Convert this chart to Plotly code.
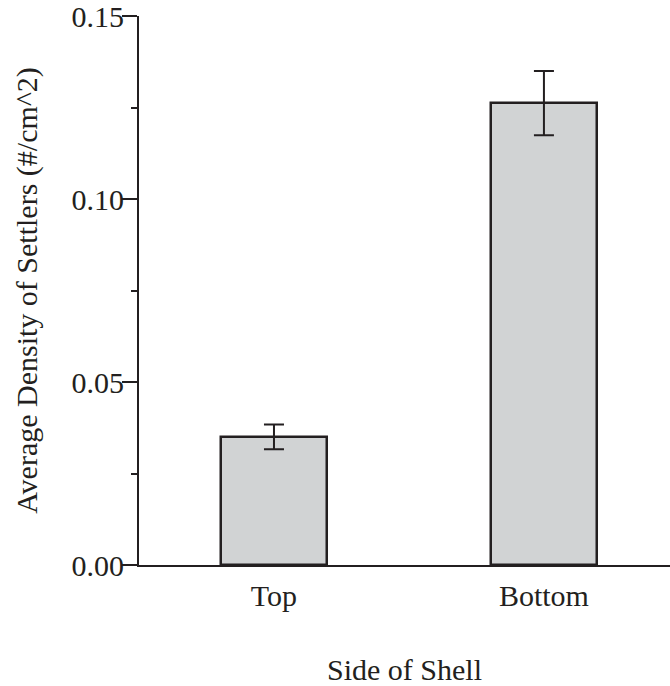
import plotly.graph_objects as go

categories = ["Top", "Bottom"]
means = [0.035, 0.1262]
errors = [0.0034, 0.0088]

ink = "#231f20"
font_family = "Liberation Serif"

fig = go.Figure()
fig.add_trace(go.Bar(
    x=categories,
    y=means,
    width=0.39,
    marker=dict(color="#d1d3d4", line=dict(color=ink, width=2.5)),
    error_y=dict(type="data", array=errors, visible=True, color=ink, thickness=2, width=10),
))

fig.update_layout(
    width=670, height=686,
    margin=dict(l=139, r=0, t=16, b=121),
    plot_bgcolor="white", paper_bgcolor="white",
    showlegend=False,
    font=dict(family=font_family, size=30, color=ink),
    bargap=0,
)
fig.update_xaxes(
    range=[-0.5, 1.467],
    showline=True, linecolor=ink, linewidth=2,
    ticks="", showgrid=False, zeroline=False,
    ticklabelstandoff=3,
    tickfont=dict(size=30, family=font_family, color=ink),
    title=dict(text="Side of Shell", font=dict(size=30, family=font_family, color=ink), standoff=48),
)
fig.update_yaxes(
    range=[0, 0.15],
    tickvals=[0, 0.05, 0.10, 0.15],
    ticktext=["0.00", "0.05", "0.10", "0.15"],
    showline=True, linecolor=ink, linewidth=2,
    ticks="outside", ticklen=15, tickwidth=2, tickcolor=ink,
    minor=dict(tickvals=[0.025, 0.075, 0.125], ticks="outside", ticklen=6, tickwidth=2, tickcolor=ink),
    showgrid=False, zeroline=False,
    ticklabelstandoff=-8,
    ticklabeloverflow="allow",
    tickfont=dict(size=30, family=font_family, color=ink),
    title=dict(text="Average Density of Settlers (#/cm^2)", font=dict(size=30, family=font_family, color=ink), standoff=25),
)

fig.write_html("out.html")
